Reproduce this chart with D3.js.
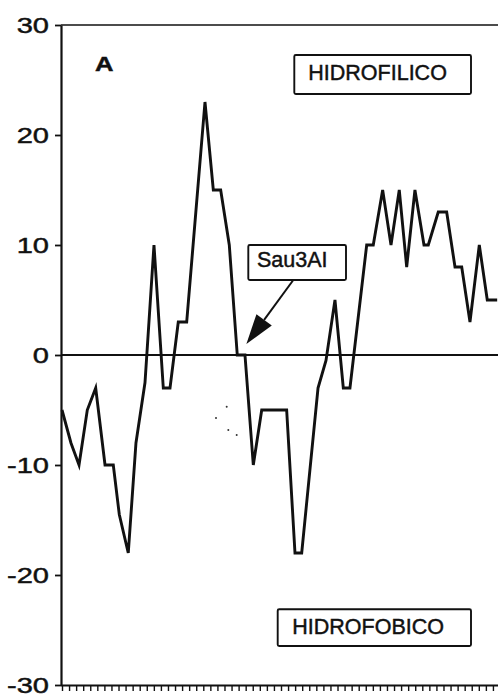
<!DOCTYPE html>
<html>
<head>
<meta charset="utf-8">
<script src="https://cdn.jsdelivr.net/npm/d3@7"></script>
<style>
  html, body { margin: 0; padding: 0; background: #fff; }
  svg { display: block; }
  text { font-family: "Liberation Sans", Arial, Helvetica, sans-serif; fill: #111; stroke: #111; stroke-width: 0.45px; }
</style>
</head>
<body>
<svg id="chart" width="498" height="694"></svg>
<script>
// Hydropathy profile along the sequence (position in axis units, value in hydropathy units)
const positions = [0, 1.27, 2.41, 3.58, 4.77, 6.09, 7.26, 8.11, 9.38, 10.47,
  11.75, 13.02, 14.34, 15.29, 16.46, 17.65, 20.24, 21.42, 22.46, 23.68,
  24.81, 25.9, 27.08, 28.27, 31.8, 32.98, 33.93, 36.24, 37.37, 38.64,
  39.82, 40.76, 43.13, 44.06, 45.39, 46.57, 47.74, 48.79, 49.96, 51.24,
  51.85, 53.26, 54.45, 55.63, 56.58, 57.75, 59.07, 60.2, 61.6];
const hydropathy = [-5, -8, -10, -5, -3, -10, -10, -14.5, -18, -8,
  -2.5, 10, -3, -3, 3, 3, 23, 15, 15, 10,
  0, 0, -10, -5, -5, -18, -18, -3, -0.5, 5,
  -3, -3, 10, 10, 15, 10, 15, 8, 15, 10,
  10, 13, 13, 8, 8, 3, 10, 5, 5];

const yTickValues = [30, 20, 10, 0, -10, -20, -30];
const xTickValues = d3.range(0, 62);
const yDomain = [-30, 30];
const xDomain = [0, 62];

const panelLabel = "A";
const upperLabel = "HIDROFILICO";
const lowerLabel = "HIDROFOBICO";
const siteLabel = "Sau3AI";
const sitePosition = 26.1;
const siteValue = 1;

const svg = d3.select("#chart");
const axisX = 61;

const x = d3.scaleLinear().domain(xDomain).range([62, 500]);
const y = d3.scaleLinear().domain(yDomain).range([685, 25]);

// left axis with wide numerals (plain hyphen for negatives)
const yAxis = svg.append("g")
  .attr("transform", `translate(${axisX},0)`)
  .call(d3.axisLeft(y).tickValues(yTickValues).tickSize(6).tickSizeOuter(0).tickFormat(d => String(d)));
yAxis.select(".domain").attr("stroke", "#111").attr("stroke-width", 2.2);
yAxis.selectAll(".tick line").attr("stroke", "#111").attr("stroke-width", 1.8);
yAxis.selectAll(".tick text")
  .attr("x", null).attr("dy", "0.36em")
  .attr("transform", "translate(-12,0) scale(1.32,1)")
  .attr("text-anchor", "end")
  .style("font-size", "22px")
  .style("fill", "#111");

// bottom axis: dense unlabeled ticks hanging below the frame
const xAxis = svg.append("g")
  .attr("transform", `translate(0,${y(-30)})`)
  .call(d3.axisBottom(x).tickValues(xTickValues).tickSize(6).tickSizeOuter(0).tickFormat(""));
xAxis.select(".domain").attr("stroke", "#111").attr("stroke-width", 1.8)
  .attr("d", `M${axisX},0.5H498`);
xAxis.selectAll(".tick line").attr("stroke", "#111").attr("stroke-width", 1.4);

// top frame line and zero line
svg.append("line").attr("x1", axisX).attr("x2", 498).attr("y1", y(30)).attr("y2", y(30))
  .attr("stroke", "#111").attr("stroke-width", 1.6);
svg.append("line").attr("x1", axisX).attr("x2", 498).attr("y1", y(0)).attr("y2", y(0))
  .attr("stroke", "#111").attr("stroke-width", 2.2);

// profile line
const pts = positions.map((p, i) => [p, hydropathy[i]]);
svg.append("path")
  .datum(pts)
  .attr("fill", "none")
  .attr("stroke", "#111")
  .attr("stroke-width", 2.9)
  .attr("stroke-linejoin", "miter")
  .attr("stroke-miterlimit", 6)
  .attr("d", d3.line().x(d => x(d[0])).y(d => y(d[1])));

// panel letter
svg.append("text")
  .attr("transform", "translate(95,70.7) scale(1.28,1)")
  .style("font-size", "20px").style("font-weight", "bold")
  .text(panelLabel);

// boxed labels
function boxedLabel(rx, ry, rw, rh, tx, ty, label) {
  svg.append("rect").attr("x", rx).attr("y", ry).attr("width", rw).attr("height", rh)
    .attr("rx", 1.5).attr("fill", "#fff").attr("stroke", "#111").attr("stroke-width", 1.9);
  svg.append("text").attr("x", tx).attr("y", ty).style("font-size", "21.5px").text(label);
}
boxedLabel(294.3, 55, 176.7, 39, 308.3, 80, upperLabel);
boxedLabel(277.7, 609.3, 193.3, 36.7, 292.3, 634, lowerLabel);
boxedLabel(248.3, 245, 97.7, 35, 257, 267.3, siteLabel);

// arrow from the site label to the cut position on the profile
const tip = [x(sitePosition), y(siteValue)];
const tail = [293.3, 280];
const ang = Math.atan2(tip[1] - tail[1], tip[0] - tail[0]);
const headLen = 30, headHalf = 9.5;
const base = [tip[0] - headLen * Math.cos(ang), tip[1] - headLen * Math.sin(ang)];
svg.append("line").attr("x1", tail[0]).attr("y1", tail[1]).attr("x2", base[0]).attr("y2", base[1])
  .attr("stroke", "#111").attr("stroke-width", 2);
svg.append("path")
  .attr("d", `M${tip[0]},${tip[1]}L${base[0] + headHalf * Math.sin(ang)},${base[1] - headHalf * Math.cos(ang)}L${base[0] - headHalf * Math.sin(ang)},${base[1] + headHalf * Math.cos(ang)}Z`)
  .attr("fill", "#111");

// faint dotted mark below the zero line
const specks = [[226.7, 406.7], [216, 418], [228.3, 430], [236.7, 435]];
svg.selectAll("circle.speck").data(specks).enter().append("circle")
  .attr("class", "speck").attr("cx", d => d[0]).attr("cy", d => d[1]).attr("r", 1)
  .attr("fill", "#333");
</script>
</body>
</html>
